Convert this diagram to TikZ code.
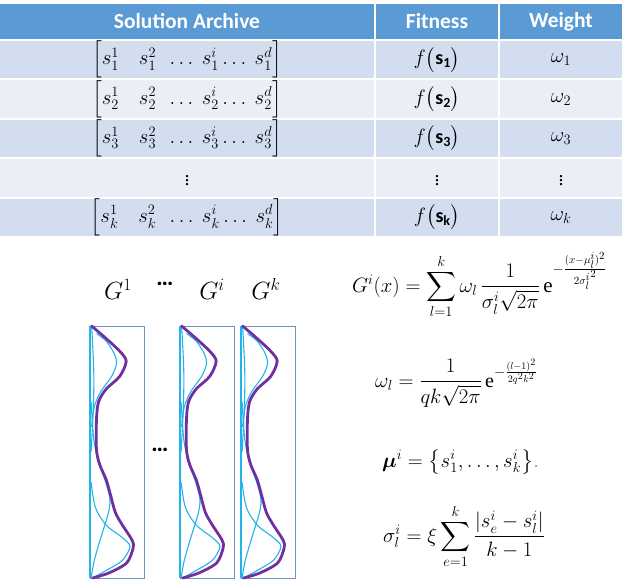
\documentclass[tikz,border=0pt]{standalone}
\usepackage{amsmath}
\usepackage{fontspec}
\setmainfont{Liberation Serif}
\newfontfamily\calibri{Carlito}
\definecolor{hdr}{HTML}{5B9BD5}
\definecolor{rowA}{HTML}{D2DEEF}
\definecolor{rowB}{HTML}{EAEFF7}
\definecolor{pur}{HTML}{7030A0}
\definecolor{cyn}{HTML}{22B4E8}
\definecolor{boxc}{HTML}{6F93C0}
\newcommand{\bsf}[1]{\text{\calibri\bfseries #1}}
\tikzset{
  cellbox/.style={inner sep=0pt, minimum height=37.4pt, font=\fontsize{20}{24}\selectfont},
  hdrbox/.style={cellbox, fill=hdr, minimum height=35pt, text=white, font=\calibri\bfseries\fontsize{21.5}{25}\selectfont},
  labeltext/.style={inner sep=0pt, font=\fontsize{23}{27}\selectfont},
  dotstext/.style={inner sep=0pt, font=\calibri\bfseries\fontsize{24}{28}\selectfont},
  formula/.style={inner sep=0pt, anchor=base west, font=\fontsize{20}{24}\selectfont},
  densityframe/.style={draw=boxc, line width=1.1pt, minimum width=54pt, minimum height=252pt, inner sep=0pt},
  cyanaxis/.style={draw=cyn, line width=2pt},
  cyanline/.style={draw=cyn, line width=1.1pt},
  purpleline/.style={draw=pur, line width=2.8pt, line cap=round},
  curves/.pic={
    \begin{scope}[x=54pt,y=-252pt]
      \draw[cyanaxis] (0,0) -- (0,1);
      \draw[cyanline] plot[smooth, tension=0.6] coordinates {(0.03,0) (0.07,0.18) (0.06,0.33) (0.02,0.5)};
      \draw[cyanline] plot[smooth] coordinates {(0.12,0.03) (0.3,0.06) (0.45,0.11) (0.49,0.15) (0.4,0.2) (0.2,0.26) (0.08,0.32) (0.03,0.4)};
      \draw[cyanline] plot[smooth] coordinates {(0.02,0.3) (0.07,0.45) (0.16,0.54) (0.29,0.62) (0.37,0.69) (0.33,0.75) (0.2,0.84) (0.08,0.93) (0.02,1)};
      \draw[cyanline] plot[smooth] coordinates {(0.02,0.62) (0.1,0.72) (0.3,0.79) (0.6,0.84) (0.74,0.875) (0.6,0.93) (0.3,0.97) (0.05,1)};
      \draw[purpleline] plot[smooth] coordinates {(0.03,0) (0.3,0.05) (0.55,0.1) (0.67,0.14) (0.55,0.2) (0.3,0.25) (0.16,0.3) (0.12,0.37) (0.12,0.49) (0.18,0.55) (0.3,0.61) (0.38,0.67) (0.47,0.74) (0.6,0.79) (0.78,0.85) (0.8,0.88) (0.68,0.94) (0.35,0.98) (0.05,1)};
    \end{scope}
  }
}
\begin{document}
\begin{tikzpicture}[x=1pt,y=-1pt]
\useasboundingbox (0,0) rectangle (632,580);
% header
\node[hdrbox, minimum width=374pt] (h1) at (187,21.5) {Solution Archive};
\node[hdrbox, minimum width=122pt] (h2) at (437,21.5) {Fitness};
\node[hdrbox, minimum width=122pt] (h3) at (561,21.5) {Weight};
% row 1
\node[cellbox, fill=rowA, minimum width=374pt] (a1) at (187,59.7) {$\Big[s_1^1\quad s_1^2\ \ \dots\ s_1^i \dots\ s_1^d\Big]$};
\node[cellbox, fill=rowA, minimum width=122pt] (f1) at (437,59.7) {$f\big(\bsf{s}_{\bsf{1}}\big)$};
\node[cellbox, fill=rowA, minimum width=122pt] (w1) at (561,59.7) {$\omega_1$};
% row 2
\node[cellbox, fill=rowB, minimum width=374pt] (a2) at (187,99.1) {$\Big[s_2^1\quad s_2^2\ \ \dots\ s_2^i \dots\ s_2^d\Big]$};
\node[cellbox, fill=rowB, minimum width=122pt] (f2) at (437,99.1) {$f\big(\bsf{s}_{\bsf{2}}\big)$};
\node[cellbox, fill=rowB, minimum width=122pt] (w2) at (561,99.1) {$\omega_2$};
% row 3
\node[cellbox, fill=rowA, minimum width=374pt] (a3) at (187,138.5) {$\Big[s_3^1\quad s_3^2\ \ \dots\ s_3^i \dots\ s_3^d\Big]$};
\node[cellbox, fill=rowA, minimum width=122pt] (f3) at (437,138.5) {$f\big(\bsf{s}_{\bsf{3}}\big)$};
\node[cellbox, fill=rowA, minimum width=122pt] (w3) at (561,138.5) {$\omega_3$};
% row dots
\node[cellbox, fill=rowB, minimum width=374pt] (a4) at (187,177.9) {$\vdots$};
\node[cellbox, fill=rowB, minimum width=122pt] (f4) at (437,177.9) {$\vdots$};
\node[cellbox, fill=rowB, minimum width=122pt] (w4) at (561,177.9) {$\vdots$};
% row k
\node[cellbox, fill=rowA, minimum width=374pt] (a5) at (187,217.3) {$\Big[s_k^1\quad s_k^2\ \ \dots\ s_k^i \dots\ s_k^d\Big]$};
\node[cellbox, fill=rowA, minimum width=122pt] (f5) at (437,217.3) {$f\big(\bsf{s}_{\bsf{k}}\big)$};
\node[cellbox, fill=rowA, minimum width=122pt] (w5) at (561,217.3) {$\omega_k$};
% labels
\node[labeltext] (g1) at (118,289) {$G^1$};
\node[dotstext] (gd) at (165,284) {…};
\node[labeltext] (gi) at (212,289) {$G^i$};
\node[labeltext] (gk) at (266,289) {$G^k$};
% boxes
\node[densityframe, anchor=north west] (b1) at (90,326) {};
\node[densityframe, anchor=north west] (b2) at (180,326) {};
\node[densityframe, anchor=north west] (b3) at (241,326) {};
\pic at (b1.north west) {curves};
\pic at (b2.north west) {curves};
\pic at (b3.north west) {curves};
\node[dotstext] (bd) at (160,450) {…};
% formulas
\node[formula, font=\fontsize{21}{25}\selectfont] (eqG) at (352,292) {$G^i(x)=\displaystyle\sum_{l=1}^{k}\omega_l\,\frac{1}{\sigma_l^i\sqrt{2\pi}}\,\mathrm{e}^{-\frac{(x-\mu_l^i)^2}{2{\sigma_l^i}^2}}$};
\node[formula] (eqW) at (375,387) {$\omega_l=\dfrac{1}{qk\sqrt{2\pi}}\,\mathrm{e}^{-\frac{(l-1)^2}{2q^2k^2}}$};
\node[formula] (eqM) at (382,467) {$\boldsymbol{\mu}^i=\big\{s_1^i,\ldots,s_k^i\big\}\textcolor{gray}{.}$};
\node[formula, font=\fontsize{21}{25}\selectfont] (eqS) at (383,542) {$\sigma_l^i=\xi\displaystyle\sum_{e=1}^{k}\frac{|s_e^i-s_l^i|}{k-1}$};
\end{tikzpicture}
\end{document}
